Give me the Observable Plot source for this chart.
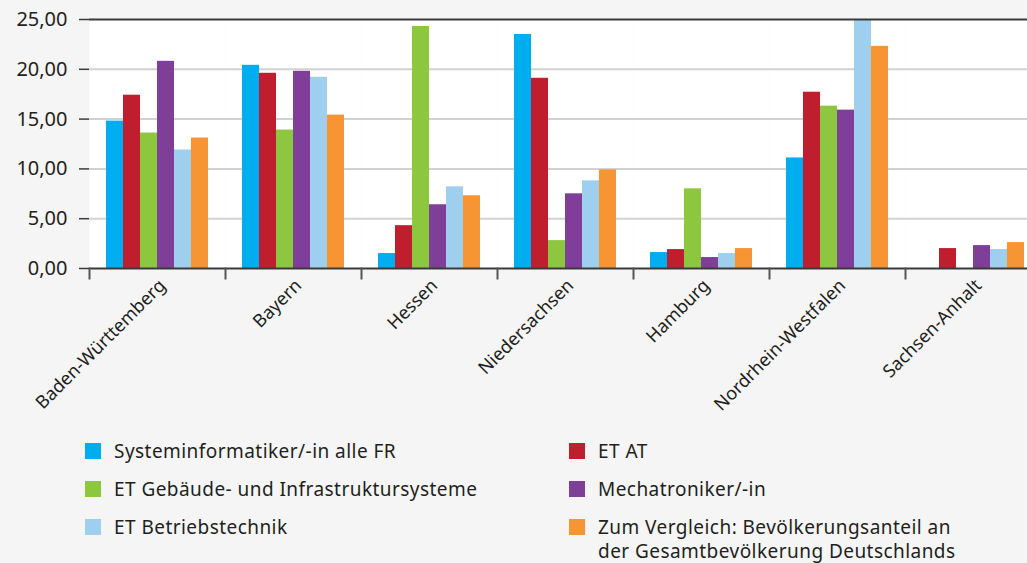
<!DOCTYPE html>
<html>
<head>
<meta charset="utf-8">
<script src="https://cdn.jsdelivr.net/npm/d3@7"></script>
<script src="https://cdn.jsdelivr.net/npm/@observablehq/plot@0.6"></script>
<style>
  html, body { margin: 0; padding: 0; background: #f4f5f4; }
  body { width: 1027px; height: 563px; overflow: hidden; font-family: "Noto Sans", sans-serif; color: #231f20; }
  #chart svg { display: block; }
  .legend { display: grid; grid-template-columns: 484px 440px; row-gap: 14px; padding-left: 85px; padding-top: 14px; }
  .item { display: flex; align-items: flex-start; font-size: 19px; letter-spacing: 0.45px; line-height: 24px; white-space: pre-line; }
  .sw { width: 16px; height: 16px; margin-top: 4px; margin-right: 13px; flex: none; }
</style>
</head>
<body>
<div id="chart"></div>
<div class="legend" id="legend"></div>
<script>
const regions = ["Baden-Württemberg", "Bayern", "Hessen", "Niedersachsen", "Hamburg", "Nordrhein-Westfalen", "Sachsen-Anhalt"];
const series = [
  "Systeminformatiker/-in alle FR",
  "ET AT",
  "ET Gebäude- und Infrastruktursysteme",
  "Mechatroniker/-in",
  "ET Betriebstechnik",
  "Zum Vergleich: Bevölkerungsanteil an\nder Gesamtbevölkerung Deutschlands"
];
const colors = ["#00aeef", "#be1e2d", "#8dc63f", "#7f3f98", "#9fcfee", "#f79433"];
const systeminformatiker = [14.8, 20.4, 1.5, 23.5, 1.6, 11.1, null];
const etAT = [17.4, 19.6, 4.3, 19.1, 1.9, 17.7, 2.0];
const etGebaeude = [13.6, 13.9, 24.3, 2.8, 8.0, 16.3, null];
const mechatroniker = [20.8, 19.8, 6.4, 7.5, 1.1, 15.9, 2.3];
const etBetrieb = [11.9, 19.2, 8.2, 8.8, 1.5, 25.0, 1.9];
const vergleich = [13.1, 15.4, 7.3, 9.9, 2.0, 22.3, 2.6];
const yTicks = [0, 5, 10, 15, 20, 25];

const valueLists = [systeminformatiker, etAT, etGebaeude, mechatroniker, etBetrieb, vergleich];
const data = [];
regions.forEach((r, i) => {
  series.forEach((s, j) => {
    const v = valueLists[j][i];
    if (v != null) data.push({region: r, series: s, value: v});
  });
});

const fmt = d => d3.format(".2f")(d).replace(".", ",");

const chart = Plot.plot({
  width: 1027,
  height: 425,
  marginLeft: 88,
  marginRight: -14,
  marginTop: 19,
  marginBottom: 157,
  style: {background: "transparent", fontFamily: "'Noto Sans', sans-serif", color: "#231f20"},
  fx: {domain: regions, padding: 0, label: null},
  x: {domain: series, paddingOuter: 0.85, paddingInner: 0, axis: null},
  y: {domain: [0, 25], label: null},
  color: {domain: series, range: colors},
  marks: [
    Plot.frame({fill: "white", stroke: null}),
    Plot.gridY(yTicks.slice(1, -1), {stroke: "#d2d2d2", strokeOpacity: 1, strokeWidth: 2}),
    Plot.barY(data, {fx: "region", x: "series", y: "value", fill: "series"}),
    Plot.ruleY([0, 25], {stroke: "#3a3a3a", strokeWidth: 2}),
    Plot.frame({anchor: "left", insetTop: 249, insetBottom: -10, stroke: "#555", strokeWidth: 2}),
    Plot.axisY(yTicks, {tickSize: 10, tickPadding: 12, tickFormat: fmt, fontSize: 20, label: null, line: true, stroke: "#3a3a3a", strokeWidth: 1.5}),
    Plot.axisFx({anchor: "bottom", tickRotate: -45, tickSize: 0, tickPadding: 14, fontSize: 18, label: null, dx: 5})
  ]
});
document.getElementById("chart").appendChild(chart);

const legend = document.getElementById("legend");
series.forEach((s, j) => {
  const item = document.createElement("div");
  item.className = "item";
  const sw = document.createElement("span");
  sw.className = "sw";
  sw.style.background = colors[j];
  const t = document.createElement("span");
  t.textContent = s;
  item.appendChild(sw);
  item.appendChild(t);
  legend.appendChild(item);
});
</script>
</body>
</html>
